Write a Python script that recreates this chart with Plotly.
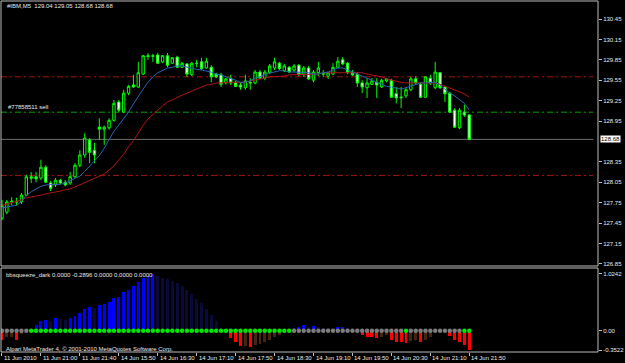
import plotly.graph_objects as go

# ---------------- data ----------------
bars = list(range(97))

opens = [127.52, 127.61, 127.76, 127.77, 127.76, 127.86, 128.13, 128.13, 128.11, 128.27,
         128.04, 128.01, 128.08, 128.05, 128.04, 128.13, 128.30, 128.45, 128.67, 128.52,
         128.86, 128.83, 128.85, 128.96, 129.23, 129.08, 129.36, 129.48, 129.45, 129.64,
         129.91, 129.90, 129.92, 129.82, 129.91, 129.80, 129.89, 129.74, 129.79, 129.63,
         129.80, 129.82, 129.73, 129.74, 129.64, 129.63, 129.51, 129.58, 129.52, 129.48,
         129.44, 129.52, 129.51, 129.67, 129.58, 129.66, 129.73, 129.80, 129.69, 129.74,
         129.70, 129.77, 129.63, 129.73, 129.55, 129.66, 129.65, 129.61, 129.64, 129.74,
         129.85, 129.80, 129.67, 129.64, 129.51, 129.44, 129.49, 129.52, 129.45, 129.54,
         129.55, 129.35, 129.29, 129.32, 129.41, 129.57, 129.49, 129.30, 129.58, 129.44,
         129.66, 129.45, 129.36, 129.11, 128.85, 129.08, 129.04]
highs = [127.79, 127.79, 127.83, 127.82, 127.89, 128.16, 128.20, 128.20, 128.38, 128.30,
         128.07, 128.11, 128.10, 128.08, 128.20, 128.33, 128.52, 128.77, 128.70, 128.63,
         128.99, 128.88, 128.99, 129.26, 129.26, 129.41, 129.48, 129.63, 129.82, 129.92,
         129.95, 129.94, 129.95, 129.92, 129.95, 129.89, 129.91, 129.82, 129.80, 129.82,
         129.85, 129.88, 129.88, 129.77, 129.66, 129.66, 129.58, 129.63, 129.54, 129.52,
         129.63, 129.58, 129.70, 129.70, 129.70, 129.79, 129.88, 129.82, 129.79, 129.76,
         129.79, 129.79, 129.76, 129.76, 129.70, 129.82, 129.70, 129.67, 129.80, 129.89,
         129.89, 129.82, 129.70, 129.67, 129.55, 129.58, 129.58, 129.58, 129.57, 129.58,
         129.57, 129.45, 129.45, 129.44, 129.60, 129.61, 129.52, 129.61, 129.63, 129.82,
         129.67, 129.46, 129.38, 129.14, 129.14, 129.19, 129.05]
lows = [127.49, 127.58, 127.71, 127.71, 127.73, 127.85, 128.04, 128.05, 128.08, 128.04,
        127.92, 127.98, 128.02, 127.99, 128.01, 128.11, 128.27, 128.41, 128.33, 128.33,
        128.67, 128.60, 128.82, 128.94, 129.08, 129.07, 129.33, 129.44, 129.44, 129.63,
        129.85, 129.82, 129.79, 129.80, 129.74, 129.79, 129.73, 129.73, 129.60, 129.61,
        129.74, 129.70, 129.72, 129.52, 129.58, 129.45, 129.49, 129.48, 129.45, 129.41,
        129.41, 129.41, 129.49, 129.57, 129.55, 129.64, 129.70, 129.70, 129.67, 129.66,
        129.67, 129.61, 129.60, 129.55, 129.52, 129.61, 129.60, 129.57, 129.63, 129.73,
        129.77, 129.64, 129.61, 129.45, 129.36, 129.29, 129.48, 129.29, 129.44, 129.52,
        129.29, 129.21, 129.14, 129.29, 129.39, 129.48, 129.29, 129.29, 129.48, 129.42,
        129.42, 129.23, 129.07, 128.85, 128.83, 129.01, 128.68]
closes = [127.71, 127.76, 127.77, 127.76, 127.86, 128.13, 128.11, 128.10, 128.27, 128.05,
          127.96, 128.08, 128.04, 128.01, 128.13, 128.30, 128.45, 128.70, 128.49, 128.45,
          128.83, 128.86, 128.96, 129.21, 129.11, 129.36, 129.46, 129.45, 129.66, 129.91,
          129.90, 129.91, 129.80, 129.91, 129.77, 129.88, 129.74, 129.80, 129.64, 129.80,
          129.80, 129.72, 129.83, 129.60, 129.60, 129.49, 129.57, 129.51, 129.46, 129.45,
          129.54, 129.51, 129.67, 129.58, 129.67, 129.76, 129.82, 129.72, 129.76, 129.67,
          129.76, 129.63, 129.73, 129.57, 129.67, 129.73, 129.64, 129.66, 129.74, 129.83,
          129.79, 129.66, 129.63, 129.51, 129.45, 129.51, 129.54, 129.48, 129.55, 129.57,
          129.30, 129.29, 129.30, 129.41, 129.57, 129.51, 129.30, 129.60, 129.51, 129.67,
          129.44, 129.35, 129.08, 128.86, 129.11, 129.04, 128.68]

ma_fast = [127.67, 127.69, 127.70, 127.71, 127.77, 127.85, 127.91, 127.95, 127.99, 128.01,
           128.01, 128.02, 128.02, 128.04, 128.07, 128.10, 128.14, 128.21, 128.29, 128.36,
           128.44, 128.55, 128.67, 128.80, 128.89, 128.99, 129.08, 129.20, 129.32, 129.42,
           129.52, 129.60, 129.66, 129.70, 129.73, 129.74, 129.76, 129.76, 129.74, 129.73,
           129.71, 129.70, 129.69, 129.67, 129.64, 129.63, 129.60, 129.58, 129.55, 129.52,
           129.52, 129.54, 129.58, 129.60, 129.63, 129.66, 129.67, 129.69, 129.69, 129.67,
           129.67, 129.67, 129.66, 129.66, 129.64, 129.64, 129.66, 129.67, 129.70, 129.73,
           129.73, 129.70, 129.67, 129.63, 129.60, 129.57, 129.54, 129.52, 129.49, 129.46,
           129.45, 129.44, 129.42, 129.44, 129.46, 129.49, 129.51, 129.51, 129.52, 129.52,
           129.48, 129.42, 129.36, 129.32, 129.27, 129.21, 129.11]
ma_slow = [127.71, 127.73, 127.74, 127.77, 127.79, 127.82, 127.83, 127.85, 127.86, 127.88,
           127.89, 127.91, 127.92, 127.94, 127.95, 127.98, 128.01, 128.04, 128.07, 128.10,
           128.13, 128.17, 128.23, 128.29, 128.38, 128.46, 128.57, 128.66, 128.77, 128.89,
           128.98, 129.05, 129.11, 129.17, 129.23, 129.26, 129.30, 129.33, 129.36, 129.39,
           129.42, 129.45, 129.48, 129.49, 129.51, 129.51, 129.52, 129.52, 129.52, 129.52,
           129.52, 129.54, 129.55, 129.57, 129.58, 129.60, 129.60, 129.61, 129.61, 129.63,
           129.63, 129.63, 129.64, 129.64, 129.64, 129.64, 129.66, 129.66, 129.67, 129.67,
           129.67, 129.67, 129.67, 129.66, 129.66, 129.64, 129.63, 129.61, 129.60, 129.57,
           129.55, 129.54, 129.52, 129.51, 129.51, 129.51, 129.51, 129.51, 129.51, 129.51,
           129.49, 129.46, 129.44, 129.41, 129.38, 129.35, 129.30]

squeeze_hist = [-0.17, -0.12, -0.12, -0.16, -0.06, -0.02, 0.03, 0.10, 0.17, 0.20,
                0.18, 0.23, 0.21, 0.20, 0.23, 0.27, 0.32, 0.40, 0.43, 0.41,
                0.46, 0.49, 0.52, 0.59, 0.60, 0.69, 0.73, 0.80, 0.88, 0.95,
                0.98, 1.0242, 0.99, 0.96, 0.93, 0.89, 0.86, 0.80, 0.73, 0.67,
                0.58, 0.50, 0.40, 0.28, 0.17, 0.04, -0.01, -0.14, -0.21, -0.27,
                -0.27, -0.30, -0.26, -0.24, -0.21, -0.17, -0.12, -0.08, -0.04, -0.01,
                0.04, 0.07, 0.10, 0.07, 0.09, 0.07, 0.05, 0.04, 0.03, 0.07,
                0.075, 0.04, 0.02, 0.005, -0.08, -0.11, -0.12, -0.13, -0.11, -0.08,
                -0.17, -0.20, -0.21, -0.23, -0.19, -0.17, -0.20, -0.16, -0.12, -0.02,
                -0.008, -0.004, -0.09, -0.17, -0.21, -0.26, -0.3522]
# 1 = squeeze off (green dot), 0 = squeeze on (grey dot)
squeeze_state = [0] * 6 + [1] * 54 + [0] * 23 + [1] + [0] * 11 + [1] * 2

tick_bars = [0, 8, 16, 24, 32, 40, 48, 56, 64, 72, 80, 88, 96]
tick_labels = ["11 Jun 2010", "11 Jun 21:00", "11 Jun 21:40", "14 Jun 15:50",
               "14 Jun 16:30", "14 Jun 17:10", "14 Jun 17:50", "14 Jun 18:30",
               "14 Jun 19:10", "14 Jun 19:50", "14 Jun 20:30", "14 Jun 21:10",
               "14 Jun 21:50"]

price_ticks = [130.45, 130.15, 129.85, 129.55, 129.25, 128.95, 128.35, 128.05,
               127.75, 127.45, 127.15, 126.85]
ind_ticks = [1.0242, 0.0, -0.3522]
ind_tick_text = ["1.0242", "0.00", "-0.3522"]

stop_loss = 129.60
entry_price = 129.08
take_profit = 128.15
bid_price = 128.68
order_label = "#77858511 sell"
header = "#IBM,M5  129.04 129.05 128.68 128.68"
ind_header = "bbsqueeze_dark 0.0000 -0.2896 0.0000 0.0000 0.0000"
copyright_text = "Alpari MetaTrader 4, © 2001-2010 MetaQuotes Software Corp."

# ---------------- styling ----------------
FONT = "Liberation Sans"
FG = "#e8e8e8"
FRAME = "#bdbdbd"

hist_colors = []
for i, v in enumerate(squeeze_hist):
    prev = squeeze_hist[i - 1] if i > 0 else (v + 0.01 if v < 0 else v - 0.01)
    if v >= 0:
        hist_colors.append("#0000ff" if v >= prev else "#0a0a3a")
    else:
        hist_colors.append("#45250f" if v >= prev else "#ff0000")
dot_colors = ["#00e600" if s else "#7c7c7c" for s in squeeze_state]

fig = go.Figure()
fig.add_trace(go.Candlestick(
    x=bars, open=opens, high=highs, low=lows, close=closes,
    increasing=dict(line=dict(color="#00ff00", width=1), fillcolor="#000000"),
    decreasing=dict(line=dict(color="#00ff00", width=1), fillcolor="#ffffff"),
    whiskerwidth=0, showlegend=False, hoverinfo="skip", xaxis="x", yaxis="y"))
fig.add_trace(go.Scatter(x=bars, y=ma_slow, mode="lines",
                         line=dict(color="#b01414", width=1),
                         showlegend=False, hoverinfo="skip", xaxis="x", yaxis="y"))
fig.add_trace(go.Scatter(x=bars, y=ma_fast, mode="lines",
                         line=dict(color="#2466b4", width=1),
                         showlegend=False, hoverinfo="skip", xaxis="x", yaxis="y"))
fig.add_trace(go.Bar(x=bars, y=squeeze_hist, marker=dict(color=hist_colors, line=dict(width=0)),
                     width=0.6, showlegend=False, hoverinfo="skip", xaxis="x2", yaxis="y2"))
fig.add_trace(go.Scatter(x=bars, y=[0] * len(bars), mode="markers",
                         marker=dict(color=dot_colors, size=4.5, line=dict(width=0)),
                         showlegend=False, hoverinfo="skip", xaxis="x2", yaxis="y2"))

W, H = 625, 363
ml, mr, mt, mb = 1, 23, 1, 11
ph = H - mt - mb
main_bottom_px = 266
ind_top_px = 268
main_dom = [(H - mb - main_bottom_px) / ph, 1.0]
ind_dom = [0.0, (H - mb - ind_top_px) / ph]
xrange_ = [-0.204, 122.45]


def py_to_paper(py):
    return (H - mb - py) / ph


shapes = []
for dom in (main_dom, ind_dom):
    shapes.append(dict(type="rect", xref="paper", yref="paper", x0=0, x1=1,
                       y0=dom[0], y1=dom[1], line=dict(color=FRAME, width=1),
                       fillcolor="rgba(0,0,0,0)", layer="above"))
for lvl, col, dash in ((stop_loss, "#a31414", "6px,3px,2px,3px"),
                       (take_profit, "#a31414", "6px,3px,2px,3px"),
                       (entry_price, "#00a400", "6px,3px,2px,3px"),
                       (bid_price, "#6e6e6e", "solid")):
    shapes.append(dict(type="line", xref="paper", yref="y", x0=0, x1=0.992,
                       y0=lvl, y1=lvl, line=dict(color=col, width=1, dash=dash),
                       layer="below"))

annotations = []
for b, t in zip(tick_bars, tick_labels):
    annotations.append(dict(x=b, xref="x2", y=0, yref="paper", text=t, showarrow=False,
                            xanchor="left", yanchor="top", xshift=0, yshift=-1,
                            font=dict(family=FONT, size=6, color=FG)))
annotations.append(dict(x=0, xref="paper", y=py_to_paper(6), yref="paper", text=header,
                        showarrow=False, xanchor="left", yanchor="middle", xshift=4,
                        font=dict(family=FONT, size=6, color=FG)))
annotations.append(dict(x=0, xref="paper", y=entry_price, yref="y", text=order_label,
                        showarrow=False, xanchor="left", yanchor="bottom", xshift=5, yshift=0,
                        font=dict(family=FONT, size=6, color=FG)))
annotations.append(dict(x=0, xref="paper", y=py_to_paper(275), yref="paper", text=ind_header,
                        showarrow=False, xanchor="left", yanchor="middle", xshift=3,
                        font=dict(family=FONT, size=6, color=FG)))
annotations.append(dict(x=0, xref="paper", y=py_to_paper(348.5), yref="paper",
                        text=copyright_text, showarrow=False, xanchor="left",
                        yanchor="middle", xshift=3,
                        font=dict(family=FONT, size=6, color=FG)))
annotations.append(dict(x=1, xref="paper", y=bid_price, yref="y", text=f"{bid_price:.2f}",
                        showarrow=False, xanchor="left", yanchor="middle", xshift=2,
                        bgcolor="#ffffff", borderpad=0,
                        font=dict(family=FONT, size=6, color="#000000")))

fig.update_layout(
    width=W, height=H,
    margin=dict(l=ml, r=mr, t=mt, b=mb, pad=0),
    paper_bgcolor="#000000", plot_bgcolor="#000000",
    showlegend=False,
    xaxis=dict(domain=[0, 1], range=xrange_, anchor="y", showticklabels=False,
               showgrid=False, zeroline=False, showline=False, ticks="",
               rangeslider=dict(visible=False), fixedrange=True),
    yaxis=dict(domain=main_dom, range=[126.818, 130.715], side="right", anchor="x",
               tickvals=price_ticks, ticktext=[f"{v:.2f}" for v in price_ticks],
               ticks="outside", ticklen=3, tickcolor=FRAME, tickwidth=1,
               tickfont=dict(family=FONT, size=6, color=FG),
               showgrid=False, zeroline=False, showline=False),
    xaxis2=dict(domain=[0, 1], range=xrange_, anchor="y2", tickvals=tick_bars,
                showticklabels=False, ticks="outside", ticklen=3, tickcolor=FRAME,
                showgrid=False, zeroline=False, showline=False),
    yaxis2=dict(domain=ind_dom, range=[-0.3845, 1.132], side="right", anchor="x2",
                tickvals=ind_ticks, ticktext=ind_tick_text,
                ticks="outside", ticklen=3, tickcolor=FRAME, tickwidth=1,
                tickfont=dict(family=FONT, size=6, color=FG),
                showgrid=False, zeroline=False, showline=False),
    shapes=shapes,
    annotations=annotations,
    bargap=0,
)

fig.write_html("out.html")
